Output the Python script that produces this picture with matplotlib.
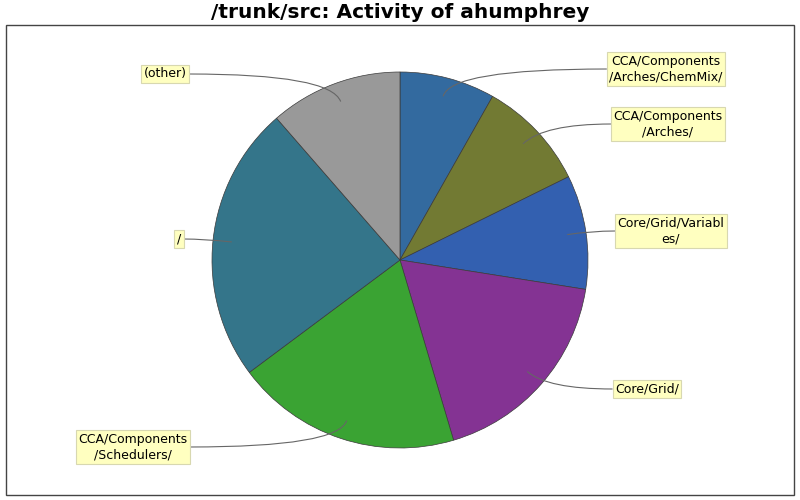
import numpy as np
import matplotlib
matplotlib.use("Agg")
import matplotlib.pyplot as plt
from matplotlib.patches import Rectangle, PathPatch
from matplotlib.path import Path

# ---- data ----
labels = ["CCA/Components\n/Arches/ChemMix/", "CCA/Components\n/Arches/",
          "Core/Grid/Variabl\nes/", "Core/Grid/", "CCA/Components\n/Schedulers/",
          "/", "(other)"]
values = [8.2, 9.5, 9.8, 17.9, 19.4, 23.8, 11.4]
colors = ["#336a9f", "#727a33", "#3360b0", "#843393", "#3aa333", "#34758a", "#999999"]
title = "/trunk/src: Activity of ahumphrey"

# ---- layout (pixel coordinates, y measured from top) ----
W, H = 800, 500
cx, cy, R = 400, 260, 188
label_pos = [(666, 69), (668, 124), (671, 231), (647, 389), (133, 447), (179, 239), (165, 74)]
label_side = ["left", "left", "left", "left", "right", "right", "right"]

fig = plt.figure(figsize=(8, 5), dpi=100)
ax = fig.add_axes([0, 0, 1, 1])
ax.set_xlim(0, W)
ax.set_ylim(0, H)
ax.axis("off")

def Y(y):
    return H - y

# frame
ax.add_patch(Rectangle((6, Y(495)), 788, 470, fill=False, edgecolor="#444444", lw=1.0))
ax.text(400, Y(13), title, ha="center", va="center", fontsize=14.5, fontweight="bold",
        family="DejaVu Sans")

wedges, _ = ax.pie(values, colors=colors, startangle=90, counterclock=False,
                   center=(cx, Y(cy)), radius=R, frame=True,
                   wedgeprops=dict(edgecolor="#3a3a3a", linewidth=0.5))
ax.set_xlim(0, W)
ax.set_ylim(0, H)
ax.set_aspect("equal")
ax.axis("off")

total = sum(values)
cum = 0.0
for i, v in enumerate(values):
    mid = (cum + v / 2) / total * 2 * np.pi  # clockwise from top
    cum += v
    dx, dy = np.sin(mid), np.cos(mid)  # dy upwards in data coords
    ax0, ay0 = cx + 0.9 * R * dx, Y(cy) + 0.9 * R * dy
    lx, ly = label_pos[i]
    ly = Y(ly)
    t = (ly - Y(cy)) / dy if abs(dy) > 1e-3 else R * 1.1
    t = max(t, 0.95 * R)
    ctrl = (cx + t * dx, Y(cy) + t * dy)
    txt = ax.text(lx, ly, labels[i], ha="center", va="center", fontsize=9,
                  family="DejaVu Sans", linespacing=1.25, color="black",
                  bbox=dict(boxstyle="square,pad=0.2", fc="#ffffc0", ec="#d8d8b0", lw=0.8),
                  zorder=5)
    fig.canvas.draw()
    bb = txt.get_bbox_patch().get_window_extent().transformed(ax.transData.inverted())
    ex = bb.x0 if label_side[i] == "left" else bb.x1
    end = (ex, ly)
    path = Path([(ax0, ay0), ctrl, end], [Path.MOVETO, Path.CURVE3, Path.CURVE3])
    ax.add_patch(PathPatch(path, fill=False, edgecolor="#666666", lw=0.8, zorder=4))

fig.savefig("out.png", dpi=100)
